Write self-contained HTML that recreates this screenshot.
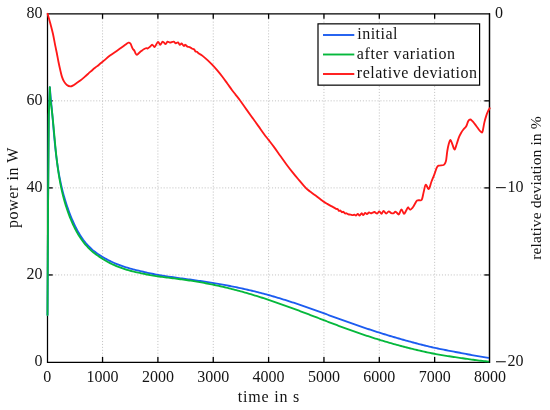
<!DOCTYPE html>
<html><head><meta charset="utf-8"><style>
html,body{margin:0;padding:0;background:#fff;}
svg{display:block;will-change:transform;}
text{font-family:"Liberation Serif",serif;font-size:16px;fill:#141414;}
.g{stroke:#c4c4c4;stroke-width:1;stroke-dasharray:1.1 1.83;fill:none;}
.c{fill:none;stroke-width:1.85;stroke-linejoin:round;stroke-linecap:round;}
.t{stroke:#000;stroke-width:1.3;}
.ax{fill:none;stroke:#000;stroke-width:1.25;stroke-linejoin:miter;}
</style></head><body>
<svg width="550" height="410" viewBox="0 0 550 410">
<line x1="102.55" y1="13.80" x2="102.55" y2="362.00" class="g" stroke-dashoffset="1"/>
<line x1="157.90" y1="13.80" x2="157.90" y2="362.00" class="g" stroke-dashoffset="1"/>
<line x1="213.25" y1="13.80" x2="213.25" y2="362.00" class="g" stroke-dashoffset="1"/>
<line x1="268.60" y1="13.80" x2="268.60" y2="362.00" class="g" stroke-dashoffset="1"/>
<line x1="323.95" y1="13.80" x2="323.95" y2="362.00" class="g" stroke-dashoffset="1"/>
<line x1="379.30" y1="13.80" x2="379.30" y2="362.00" class="g" stroke-dashoffset="1"/>
<line x1="434.65" y1="13.80" x2="434.65" y2="362.00" class="g" stroke-dashoffset="1"/>
<line x1="47.20" y1="274.95" x2="490.00" y2="274.95" class="g" stroke-dashoffset="0.8"/>
<line x1="47.20" y1="187.90" x2="490.00" y2="187.90" class="g" stroke-dashoffset="0.8"/>
<line x1="47.20" y1="100.85" x2="490.00" y2="100.85" class="g" stroke-dashoffset="0.8"/>
<line x1="102.55" y1="362.00" x2="102.55" y2="357.00" class="t"/>
<line x1="102.55" y1="13.80" x2="102.55" y2="18.80" class="t"/>
<line x1="157.90" y1="362.00" x2="157.90" y2="357.00" class="t"/>
<line x1="157.90" y1="13.80" x2="157.90" y2="18.80" class="t"/>
<line x1="213.25" y1="362.00" x2="213.25" y2="357.00" class="t"/>
<line x1="213.25" y1="13.80" x2="213.25" y2="18.80" class="t"/>
<line x1="268.60" y1="362.00" x2="268.60" y2="357.00" class="t"/>
<line x1="268.60" y1="13.80" x2="268.60" y2="18.80" class="t"/>
<line x1="323.95" y1="362.00" x2="323.95" y2="357.00" class="t"/>
<line x1="323.95" y1="13.80" x2="323.95" y2="18.80" class="t"/>
<line x1="379.30" y1="362.00" x2="379.30" y2="357.00" class="t"/>
<line x1="379.30" y1="13.80" x2="379.30" y2="18.80" class="t"/>
<line x1="434.65" y1="362.00" x2="434.65" y2="357.00" class="t"/>
<line x1="434.65" y1="13.80" x2="434.65" y2="18.80" class="t"/>
<line x1="47.5" y1="274.95" x2="52.70" y2="274.95" class="t"/>
<line x1="47.5" y1="187.90" x2="52.70" y2="187.90" class="t"/>
<line x1="47.5" y1="100.85" x2="52.70" y2="100.85" class="t"/>
<path d="M47.5,13.8 H489.5 V362.25 H47.5 Z" class="ax"/>
<path d="M47.50,315.00 L48.00,215.00 L48.80,115.00 L49.80,87.10 L50.96,100.35 L51.12,101.82 L51.27,103.28 L51.41,104.75 L51.56,106.22 L51.69,107.69 L51.83,109.16 L51.97,110.64 L52.10,112.11 L52.23,113.58 L52.36,115.05 L52.49,116.53 L52.62,118.00 L52.74,119.48 L52.87,120.96 L52.99,122.43 L53.12,123.91 L53.24,125.39 L53.37,126.87 L53.49,128.34 L53.62,129.82 L53.75,131.30 L53.88,132.78 L54.01,134.26 L54.14,135.75 L54.27,137.23 L54.41,138.71 L54.55,140.19 L54.69,141.67 L54.84,143.16 L54.98,144.64 L55.14,146.12 L55.29,147.61 L55.45,149.09 L55.61,150.57 L55.78,152.06 L55.96,153.54 L56.13,155.03 L56.32,156.51 L56.50,158.00 L56.70,159.48 L56.90,160.97 L57.10,162.45 L57.32,163.94 L57.54,165.43 L57.76,166.91 L58.00,168.40 L58.24,169.88 L58.48,171.37 L58.74,172.85 L59.00,174.34 L59.28,175.82 L59.56,177.31 L59.85,178.80 L60.15,180.28 L60.46,181.77 L60.77,183.25 L61.10,184.74 L61.44,186.22 L61.79,187.71 L62.15,189.19 L62.52,190.67 L62.90,192.16 L63.29,193.64 L63.69,195.12 L64.11,196.61 L64.53,198.09 L64.97,199.57 L65.43,201.05 L65.89,202.54 L66.37,204.01 L66.86,205.49 L67.36,206.96 L67.88,208.43 L68.41,209.94 L68.96,211.47 L69.52,212.99 L70.09,214.50 L70.68,216.01 L71.29,217.51 L71.91,219.00 L72.55,220.49 L73.20,221.97 L73.87,223.43 L74.55,224.89 L75.25,226.34 L75.97,227.78 L76.71,229.20 L77.46,230.61 L78.23,231.99 L79.02,233.33 L79.82,234.64 L80.65,235.94 L81.49,237.22 L82.35,238.48 L83.23,239.72 L84.14,240.94 L85.06,242.13 L85.99,243.26 L86.95,244.35 L87.93,245.43 L88.93,246.48 L89.95,247.50 L90.99,248.50 L92.04,249.48 L93.11,250.37 L94.20,251.23 L95.31,252.07 L96.43,252.89 L97.57,253.69 L98.73,254.46 L99.90,255.22 L101.09,256.00 L102.29,256.76 L103.50,257.50 L104.73,258.22 L105.97,258.92 L107.23,259.61 L108.50,260.27 L109.78,260.92 L111.07,261.54 L112.37,262.15 L113.69,262.73 L115.01,263.30 L116.35,263.85 L117.69,264.39 L119.05,264.91 L120.41,265.41 L121.79,265.90 L123.17,266.38 L124.56,266.84 L125.95,267.28 L127.36,267.71 L128.77,268.13 L130.18,268.54 L131.61,268.93 L133.04,269.31 L134.47,269.68 L135.91,270.04 L137.35,270.38 L138.80,270.72 L140.26,271.05 L141.72,271.42 L143.18,271.77 L144.65,272.12 L146.12,272.46 L147.59,272.79 L149.07,273.11 L150.55,273.42 L152.04,273.73 L153.53,274.02 L155.02,274.31 L156.51,274.60 L158.01,274.87 L159.51,275.15 L161.01,275.40 L162.52,275.65 L164.03,275.89 L165.53,276.13 L167.04,276.36 L168.55,276.59 L170.07,276.81 L171.58,277.03 L173.10,277.25 L174.61,277.47 L176.13,277.68 L177.64,277.89 L179.16,278.10 L180.68,278.31 L182.19,278.51 L183.71,278.72 L185.23,278.93 L186.74,279.13 L188.26,279.34 L189.77,279.54 L191.28,279.75 L192.79,279.96 L194.30,280.17 L195.81,280.38 L197.32,280.60 L198.82,280.81 L200.33,281.03 L201.83,281.25 L203.33,281.48 L204.82,281.71 L206.32,281.94 L207.81,282.17 L209.31,282.40 L210.80,282.64 L212.29,282.88 L213.78,283.13 L215.26,283.37 L216.75,283.62 L218.23,283.88 L219.71,284.13 L221.19,284.39 L222.67,284.65 L224.14,284.92 L225.62,285.19 L227.09,285.46 L228.57,285.74 L230.04,286.02 L231.51,286.31 L232.97,286.60 L234.44,286.90 L235.91,287.20 L237.37,287.50 L238.83,287.81 L240.30,288.13 L241.76,288.44 L243.21,288.76 L244.67,289.09 L246.13,289.41 L247.58,289.75 L249.04,290.08 L250.49,290.42 L251.94,290.77 L253.39,291.12 L254.84,291.47 L256.29,291.83 L257.74,292.19 L259.19,292.56 L260.63,292.93 L262.08,293.31 L263.52,293.69 L264.96,294.08 L266.40,294.47 L267.84,294.86 L269.28,295.26 L270.72,295.67 L272.16,296.08 L273.60,296.50 L275.03,296.92 L276.47,297.34 L277.90,297.77 L279.34,298.21 L280.77,298.65 L282.20,299.08 L283.63,299.52 L285.06,299.97 L286.49,300.42 L287.92,300.88 L289.35,301.33 L290.78,301.80 L292.21,302.26 L293.63,302.73 L295.06,303.21 L296.48,303.68 L297.91,304.16 L299.33,304.65 L300.76,305.13 L302.18,305.62 L303.60,306.11 L305.03,306.61 L306.45,307.11 L307.87,307.60 L309.29,308.11 L310.71,308.61 L312.13,309.11 L313.55,309.62 L314.97,310.13 L316.39,310.64 L317.81,311.15 L319.23,311.66 L320.65,312.17 L322.07,312.69 L323.48,313.20 L324.90,313.72 L326.32,314.23 L327.74,314.75 L329.15,315.27 L330.57,315.78 L331.99,316.30 L333.41,316.82 L334.82,317.33 L336.24,317.85 L337.66,318.36 L339.07,318.87 L340.49,319.39 L341.91,319.90 L343.32,320.41 L344.74,320.92 L346.16,321.43 L347.58,321.93 L348.99,322.44 L350.41,322.94 L351.83,323.44 L353.25,323.94 L354.66,324.43 L356.08,324.93 L357.50,325.42 L358.92,325.91 L360.34,326.39 L361.76,326.88 L363.18,327.36 L364.60,327.83 L366.02,328.31 L367.44,328.78 L368.86,329.25 L370.28,329.72 L371.70,330.19 L373.12,330.65 L374.54,331.11 L375.97,331.56 L377.39,332.02 L378.81,332.47 L380.24,332.92 L381.66,333.36 L383.09,333.81 L384.51,334.25 L385.94,334.69 L387.37,335.12 L388.80,335.56 L390.22,335.99 L391.65,336.41 L393.08,336.84 L394.51,337.26 L395.95,337.68 L397.38,338.10 L398.81,338.51 L400.24,338.92 L401.68,339.33 L403.11,339.74 L404.55,340.14 L405.99,340.54 L407.42,340.94 L408.86,341.33 L410.30,341.72 L411.74,342.11 L413.18,342.50 L414.63,342.88 L416.07,343.26 L417.51,343.64 L418.96,344.02 L420.40,344.39 L421.85,344.76 L423.30,345.13 L424.75,345.49 L426.20,345.85 L427.65,346.21 L429.10,346.57 L430.56,346.91 L432.01,347.23 L433.47,347.55 L434.93,347.86 L436.39,348.18 L437.85,348.48 L439.31,348.79 L440.77,349.10 L442.24,349.40 L443.70,349.69 L445.17,349.99 L446.64,350.28 L448.10,350.57 L449.58,350.86 L451.05,351.14 L452.52,351.42 L454.00,351.70 L455.47,351.98 L456.95,352.25 L458.43,352.52 L459.91,352.78 L461.39,353.07 L462.88,353.36 L464.36,353.65 L465.85,353.93 L467.34,354.22 L468.83,354.49 L470.32,354.77 L471.82,355.04 L473.31,355.31 L474.81,355.58 L476.31,355.84 L477.81,356.10 L479.31,356.36 L480.82,356.61 L482.33,356.86 L483.83,357.11 L485.34,357.36 L486.86,357.60 L488.37,357.84" stroke="#1c5cf0" class="c"/>
<path d="M47.50,315.00 L48.00,215.00 L48.80,115.00 L49.80,87.10 L50.51,100.55 L50.72,101.97 L50.92,103.39 L51.12,104.81 L51.31,106.24 L51.50,107.67 L51.68,109.11 L51.85,110.55 L52.02,112.00 L52.19,113.45 L52.35,114.90 L52.51,116.35 L52.66,117.81 L52.82,119.28 L52.97,120.74 L53.11,122.21 L53.26,123.68 L53.40,125.16 L53.54,126.63 L53.68,128.11 L53.81,129.60 L53.95,131.08 L54.09,132.57 L54.22,134.06 L54.36,135.55 L54.49,137.04 L54.63,138.54 L54.77,140.03 L54.90,141.53 L55.04,143.03 L55.18,144.53 L55.33,146.03 L55.47,147.54 L55.62,149.04 L55.77,150.55 L55.92,152.05 L56.08,153.56 L56.24,155.07 L56.41,156.58 L56.58,158.09 L56.75,159.59 L56.93,161.10 L57.11,162.61 L57.30,164.12 L57.49,165.63 L57.69,167.14 L57.90,168.65 L58.11,170.15 L58.33,171.66 L58.56,173.17 L58.79,174.67 L59.03,176.17 L59.28,177.68 L59.54,179.18 L59.81,180.68 L60.08,182.18 L60.36,183.68 L60.66,185.17 L60.96,186.67 L61.27,188.16 L61.60,189.65 L61.93,191.14 L62.27,192.62 L62.63,194.11 L62.99,195.59 L63.37,197.07 L63.76,198.54 L64.16,200.02 L64.58,201.49 L65.01,202.95 L65.45,204.42 L65.90,205.87 L66.37,207.33 L66.85,208.77 L67.35,210.21 L67.85,211.65 L68.38,213.12 L68.92,214.61 L69.47,216.08 L70.04,217.55 L70.63,219.02 L71.23,220.47 L71.85,221.92 L72.49,223.36 L73.14,224.78 L73.81,226.20 L74.50,227.61 L75.21,229.01 L75.93,230.40 L76.67,231.77 L77.43,233.13 L78.21,234.47 L79.01,235.76 L79.83,237.03 L80.67,238.28 L81.53,239.53 L82.41,240.75 L83.31,241.96 L84.23,243.15 L85.17,244.31 L86.13,245.41 L87.12,246.48 L88.12,247.54 L89.15,248.58 L90.19,249.61 L91.25,250.61 L92.33,251.57 L93.43,252.46 L94.55,253.34 L95.68,254.19 L96.83,255.03 L98.00,255.84 L99.18,256.64 L100.38,257.43 L101.59,258.23 L102.81,259.02 L104.05,259.79 L105.31,260.54 L106.58,261.26 L107.86,261.97 L109.15,262.66 L110.45,263.33 L111.77,263.98 L113.09,264.60 L114.43,265.21 L115.78,265.79 L117.13,266.36 L118.50,266.91 L119.87,267.44 L121.26,267.95 L122.65,268.44 L124.05,268.91 L125.45,269.37 L126.86,269.80 L128.28,270.22 L129.70,270.62 L131.13,271.00 L132.57,271.36 L134.01,271.71 L135.46,272.05 L136.91,272.37 L138.36,272.67 L139.82,272.96 L141.29,273.29 L142.76,273.61 L144.23,273.92 L145.71,274.22 L147.19,274.51 L148.67,274.78 L150.16,275.05 L151.65,275.31 L153.14,275.56 L154.64,275.81 L156.14,276.05 L157.64,276.28 L159.14,276.50 L160.64,276.72 L162.15,276.92 L163.66,277.12 L165.16,277.31 L166.67,277.51 L168.18,277.70 L169.69,277.89 L171.20,278.07 L172.71,278.26 L174.23,278.45 L175.74,278.64 L177.24,278.82 L178.75,279.02 L180.26,279.21 L181.77,279.41 L183.27,279.61 L184.78,279.81 L186.28,280.02 L187.78,280.24 L189.28,280.46 L190.77,280.68 L192.27,280.91 L193.76,281.15 L195.25,281.39 L196.74,281.63 L198.23,281.89 L199.71,282.14 L201.20,282.40 L202.68,282.67 L204.16,282.94 L205.64,283.22 L207.11,283.50 L208.59,283.79 L210.06,284.08 L211.54,284.37 L213.01,284.67 L214.47,284.98 L215.94,285.29 L217.41,285.61 L218.87,285.93 L220.33,286.25 L221.80,286.58 L223.26,286.91 L224.71,287.25 L226.17,287.60 L227.63,287.95 L229.08,288.30 L230.53,288.66 L231.98,289.03 L233.43,289.40 L234.88,289.78 L236.33,290.16 L237.78,290.54 L239.22,290.93 L240.67,291.33 L242.11,291.73 L243.55,292.13 L244.99,292.54 L246.43,292.95 L247.87,293.37 L249.31,293.79 L250.74,294.21 L252.18,294.64 L253.61,295.07 L255.04,295.51 L256.48,295.95 L257.91,296.40 L259.34,296.84 L260.77,297.30 L262.19,297.75 L263.62,298.21 L265.05,298.68 L266.47,299.15 L267.90,299.62 L269.32,300.10 L270.74,300.57 L272.17,301.06 L273.59,301.55 L275.01,302.04 L276.43,302.53 L277.85,303.03 L279.27,303.53 L280.69,304.03 L282.10,304.53 L283.52,305.04 L284.94,305.54 L286.35,306.05 L287.77,306.56 L289.18,307.08 L290.60,307.59 L292.01,308.11 L293.43,308.63 L294.84,309.16 L296.25,309.68 L297.66,310.21 L299.08,310.74 L300.49,311.27 L301.90,311.80 L303.31,312.34 L304.72,312.87 L306.13,313.41 L307.54,313.94 L308.95,314.48 L310.36,315.02 L311.77,315.56 L313.18,316.10 L314.58,316.64 L315.99,317.18 L317.40,317.72 L318.81,318.26 L320.22,318.80 L321.63,319.34 L323.04,319.88 L324.44,320.42 L325.85,320.96 L327.26,321.50 L328.67,322.04 L330.08,322.57 L331.49,323.11 L332.90,323.64 L334.30,324.17 L335.71,324.70 L337.12,325.23 L338.53,325.76 L339.94,326.29 L341.35,326.81 L342.76,327.33 L344.17,327.85 L345.58,328.37 L346.99,328.88 L348.40,329.40 L349.81,329.91 L351.23,330.41 L352.64,330.92 L354.05,331.42 L355.46,331.91 L356.88,332.41 L358.29,332.90 L359.71,333.38 L361.12,333.87 L362.54,334.35 L363.95,334.82 L365.37,335.30 L366.79,335.77 L368.21,336.23 L369.62,336.70 L371.04,337.16 L372.46,337.61 L373.88,338.06 L375.30,338.51 L376.73,338.96 L378.15,339.40 L379.57,339.84 L381.00,340.27 L382.42,340.70 L383.85,341.13 L385.27,341.56 L386.70,341.98 L388.13,342.40 L389.56,342.81 L390.99,343.22 L392.42,343.63 L393.85,344.03 L395.29,344.43 L396.72,344.82 L398.16,345.22 L399.59,345.61 L401.03,345.99 L402.47,346.37 L403.91,346.75 L405.35,347.13 L406.79,347.50 L408.23,347.86 L409.68,348.23 L411.12,348.59 L412.57,348.94 L414.02,349.30 L415.47,349.65 L416.92,349.99 L418.37,350.33 L419.82,350.67 L421.28,351.01 L422.74,351.34 L424.19,351.67 L425.65,351.99 L427.11,352.31 L428.57,352.63 L430.04,352.94 L431.50,353.22 L432.97,353.49 L434.43,353.77 L435.90,354.04 L437.38,354.30 L438.85,354.56 L440.32,354.82 L441.80,355.07 L443.27,355.32 L444.75,355.57 L446.23,355.81 L447.72,356.05 L449.20,356.28 L450.69,356.52 L452.18,356.74 L453.66,356.97 L455.16,357.19 L456.65,357.40 L458.14,357.61 L459.64,357.82 L461.14,358.05 L462.64,358.28 L464.14,358.51 L465.65,358.73 L467.16,358.95 L468.66,359.17 L470.17,359.38 L471.69,359.58 L473.20,359.79 L474.72,359.99 L476.24,360.19 L477.76,360.38 L479.28,360.57 L480.81,360.75 L482.34,360.93 L483.87,361.11 L485.40,361.28 L486.93,361.45 L488.47,361.60" stroke="#05b83c" class="c"/>
<line x1="489.5" y1="13.2" x2="489.5" y2="362.9" class="t" style="stroke-width:1.25"/>
<line x1="489.5" y1="274.95" x2="484.30" y2="274.95" class="t"/>
<line x1="489.5" y1="187.90" x2="484.30" y2="187.90" class="t"/>
<line x1="489.5" y1="100.85" x2="484.30" y2="100.85" class="t"/>
<path d="M47.60,13.80 C48.13,15.70 49.90,21.83 50.80,25.20 C51.70,28.57 52.27,30.63 53.00,34.00 C53.73,37.37 54.57,42.23 55.20,45.40 C55.83,48.57 56.25,50.23 56.80,53.00 C57.35,55.77 57.93,59.20 58.50,62.00 C59.07,64.80 59.63,67.37 60.20,69.80 C60.77,72.23 61.25,74.63 61.90,76.60 C62.55,78.57 63.27,80.20 64.10,81.60 C64.93,83.00 65.87,84.20 66.90,85.00 C67.93,85.80 69.25,86.33 70.30,86.40 C71.35,86.47 72.23,85.90 73.20,85.40 C74.17,84.90 74.92,84.22 76.10,83.40 C77.28,82.58 78.92,81.55 80.30,80.50 C81.68,79.45 83.02,78.28 84.40,77.10 C85.78,75.92 87.22,74.63 88.60,73.40 C89.98,72.17 91.32,70.87 92.70,69.70 C94.08,68.53 95.52,67.52 96.90,66.40 C98.28,65.28 99.78,64.00 101.00,63.00 C102.22,62.00 102.70,61.63 104.20,60.40 C105.70,59.17 108.10,57.05 110.00,55.60 C111.90,54.15 113.73,53.00 115.60,51.70 C117.47,50.40 119.52,49.02 121.20,47.80 C122.88,46.58 124.48,45.27 125.70,44.40 C126.92,43.53 127.72,42.75 128.50,42.60 C129.28,42.45 129.85,42.82 130.40,43.50 C130.95,44.18 131.38,45.80 131.80,46.70 C132.22,47.60 132.47,48.23 132.90,48.90 C133.33,49.57 133.97,49.97 134.40,50.70 C134.83,51.43 135.10,52.60 135.50,53.30 C135.90,54.00 136.27,54.90 136.80,54.90 C137.33,54.90 137.95,53.93 138.70,53.30 C139.45,52.67 140.45,51.77 141.30,51.10 C142.15,50.43 142.95,49.78 143.80,49.30 C144.65,48.82 145.73,48.35 146.40,48.20 C147.07,48.05 147.20,48.65 147.80,48.40 C148.40,48.15 149.22,47.30 150.00,46.70 C150.78,46.10 151.72,44.77 152.50,44.80 C153.28,44.83 153.78,47.38 154.70,46.90 C155.62,46.42 157.08,42.23 158.00,41.90 C158.92,41.57 159.42,44.95 160.20,44.90 C160.98,44.85 161.80,41.73 162.70,41.60 C163.60,41.47 164.80,44.10 165.60,44.10 C166.40,44.10 166.77,41.85 167.50,41.60 C168.23,41.35 168.98,42.60 170.00,42.60 C171.02,42.60 172.63,41.48 173.60,41.60 C174.57,41.72 175.07,43.17 175.80,43.30 C176.53,43.43 177.33,42.13 178.00,42.40 C178.67,42.67 179.20,44.72 179.80,44.90 C180.40,45.08 180.93,43.32 181.60,43.50 C182.27,43.68 183.18,45.78 183.80,46.00 C184.42,46.22 184.68,44.68 185.30,44.80 C185.92,44.92 186.78,46.32 187.50,46.70 C188.22,47.08 188.88,46.80 189.60,47.10 C190.32,47.40 191.07,48.13 191.80,48.50 C192.53,48.87 193.38,48.80 194.00,49.30 C194.62,49.80 195.02,51.08 195.50,51.50 C195.98,51.92 196.40,51.50 196.90,51.80 C197.40,52.10 198.02,52.93 198.50,53.30 C198.98,53.67 199.07,53.53 199.80,54.00 C200.53,54.47 201.57,55.03 202.90,56.10 C204.23,57.17 206.18,58.88 207.80,60.40 C209.42,61.92 210.98,63.48 212.60,65.20 C214.22,66.92 215.87,68.77 217.50,70.70 C219.13,72.63 220.77,74.67 222.40,76.80 C224.03,78.93 225.68,81.27 227.30,83.50 C228.92,85.73 230.73,88.35 232.10,90.20 C233.47,92.05 234.17,92.88 235.50,94.60 C236.83,96.32 238.32,98.08 240.10,100.50 C241.88,102.92 244.17,106.25 246.20,109.10 C248.23,111.95 250.27,114.77 252.30,117.60 C254.33,120.43 256.37,123.25 258.40,126.10 C260.43,128.95 262.80,132.40 264.50,134.70 C266.20,137.00 267.00,137.83 268.60,139.90 C270.20,141.97 272.17,144.47 274.10,147.10 C276.03,149.73 278.17,152.85 280.20,155.70 C282.23,158.55 284.27,161.47 286.30,164.20 C288.33,166.93 290.37,169.55 292.40,172.10 C294.43,174.65 296.58,177.22 298.50,179.50 C300.42,181.78 302.35,184.08 303.90,185.80 C305.45,187.52 306.50,188.65 307.80,189.80 C309.10,190.95 310.40,191.73 311.70,192.70 C313.00,193.67 314.30,194.63 315.60,195.60 C316.90,196.57 318.20,197.52 319.50,198.50 C320.80,199.48 322.10,200.60 323.40,201.50 C324.70,202.40 326.00,203.13 327.30,203.90 C328.60,204.67 330.07,205.48 331.20,206.10 C332.33,206.72 333.28,207.13 334.10,207.60 C334.92,208.07 335.52,208.67 336.10,208.90 C336.68,209.13 337.13,208.67 337.60,209.00 C338.07,209.33 338.43,210.65 338.90,210.90 C339.37,211.15 339.92,210.28 340.40,210.50 C340.88,210.72 341.32,211.98 341.80,212.20 C342.28,212.42 342.75,211.60 343.30,211.80 C343.85,212.00 344.57,213.15 345.10,213.40 C345.63,213.65 345.95,213.13 346.50,213.30 C347.05,213.47 347.73,214.18 348.40,214.40 C349.07,214.62 349.78,214.48 350.50,214.60 C351.22,214.72 352.03,215.08 352.70,215.10 C353.37,215.12 353.95,214.63 354.50,214.70 C355.05,214.77 355.45,215.63 356.00,215.50 C356.55,215.37 357.20,213.90 357.80,213.90 C358.40,213.90 358.98,215.60 359.60,215.50 C360.22,215.40 360.88,213.37 361.50,213.30 C362.12,213.23 362.70,215.17 363.30,215.10 C363.90,215.03 364.50,213.07 365.10,212.90 C365.70,212.73 366.23,214.18 366.90,214.10 C367.57,214.02 368.43,212.53 369.10,212.40 C369.77,212.27 370.30,213.27 370.90,213.30 C371.50,213.33 372.10,212.82 372.70,212.60 C373.30,212.38 373.77,211.85 374.50,212.00 C375.23,212.15 376.30,213.60 377.10,213.50 C377.90,213.40 378.57,211.35 379.30,211.40 C380.03,211.45 380.78,213.88 381.50,213.80 C382.22,213.72 382.82,210.93 383.60,210.90 C384.38,210.87 385.35,213.52 386.20,213.60 C387.05,213.68 387.85,211.48 388.70,211.40 C389.55,211.32 390.45,212.82 391.30,213.10 C392.15,213.38 393.13,213.35 393.80,213.10 C394.47,212.85 394.75,211.60 395.30,211.60 C395.85,211.60 396.50,212.65 397.10,213.10 C397.70,213.55 398.17,214.90 398.90,214.30 C399.63,213.70 400.65,209.58 401.50,209.50 C402.35,209.42 403.22,213.63 404.00,213.80 C404.78,213.97 405.53,211.58 406.20,210.50 C406.87,209.42 407.37,207.43 408.00,207.30 C408.63,207.17 409.22,209.67 410.00,209.70 C410.78,209.73 411.92,208.40 412.70,207.50 C413.48,206.60 413.97,205.47 414.70,204.30 C415.43,203.13 416.08,201.17 417.10,200.50 C418.12,199.83 419.97,200.57 420.80,200.30 C421.63,200.03 421.60,200.37 422.10,198.90 C422.60,197.43 423.20,193.85 423.80,191.50 C424.40,189.15 424.87,185.23 425.70,184.80 C426.53,184.37 427.83,189.45 428.80,188.90 C429.77,188.35 430.60,183.85 431.50,181.50 C432.40,179.15 433.30,177.15 434.20,174.80 C435.10,172.45 436.12,168.93 436.90,167.40 C437.68,165.87 437.78,166.00 438.90,165.60 C440.02,165.20 442.55,165.43 443.60,165.00 C444.65,164.57 444.77,163.87 445.20,163.00 C445.63,162.13 445.85,161.80 446.20,159.80 C446.55,157.80 446.87,153.68 447.30,151.00 C447.73,148.32 448.27,145.53 448.80,143.70 C449.33,141.87 449.90,139.88 450.50,140.00 C451.10,140.12 451.72,142.82 452.40,144.40 C453.08,145.98 453.87,149.62 454.60,149.50 C455.33,149.38 456.07,145.77 456.80,143.70 C457.53,141.63 458.27,138.93 459.00,137.10 C459.73,135.27 460.47,133.97 461.20,132.70 C461.93,131.43 462.68,130.42 463.40,129.50 C464.12,128.58 464.97,127.87 465.50,127.20 C466.03,126.53 466.13,126.55 466.60,125.50 C467.07,124.45 467.68,121.90 468.30,120.90 C468.92,119.90 469.65,119.50 470.30,119.50 C470.95,119.50 471.47,120.17 472.20,120.90 C472.93,121.63 473.80,122.75 474.70,123.90 C475.60,125.05 476.72,126.62 477.60,127.80 C478.48,128.98 479.27,130.20 480.00,131.00 C480.73,131.80 481.52,132.73 482.00,132.60 C482.48,132.47 482.50,131.90 482.90,130.20 C483.30,128.50 483.83,124.83 484.40,122.40 C484.97,119.97 485.65,117.55 486.30,115.60 C486.95,113.65 487.73,111.92 488.30,110.70 C488.87,109.48 489.47,108.70 489.70,108.30" stroke="#ff1818" class="c"/>
<rect x="318.0" y="23.85" width="161.6" height="61.3" fill="#fff" stroke="#000" stroke-width="1.2"/>
<line x1="323" y1="35" x2="354.3" y2="35" stroke="#1c5cf0" stroke-width="1.9"/>
<line x1="323" y1="54.5" x2="354.3" y2="54.5" stroke="#05b83c" stroke-width="1.9"/>
<line x1="323" y1="74" x2="354.3" y2="74" stroke="#ff1818" stroke-width="1.9"/>
<text x="357.2" y="38.9" textLength="40.3" lengthAdjust="spacing">initial</text>
<text x="356.8" y="58.7" textLength="98.3" lengthAdjust="spacing">after variation</text>
<text x="356.8" y="77.9" textLength="120.2" lengthAdjust="spacing">relative deviation</text>
<text x="42.6" y="366.10" text-anchor="end">0</text>
<text x="42.6" y="279.05" text-anchor="end">20</text>
<text x="42.6" y="192.00" text-anchor="end">40</text>
<text x="42.6" y="104.95" text-anchor="end">60</text>
<text x="42.6" y="17.90" text-anchor="end">80</text>
<text x="47.20" y="381.6" text-anchor="middle">0</text>
<text x="102.55" y="381.6" text-anchor="middle">1000</text>
<text x="157.90" y="381.6" text-anchor="middle">2000</text>
<text x="213.25" y="381.6" text-anchor="middle">3000</text>
<text x="268.60" y="381.6" text-anchor="middle">4000</text>
<text x="323.95" y="381.6" text-anchor="middle">5000</text>
<text x="379.30" y="381.6" text-anchor="middle">6000</text>
<text x="434.65" y="381.6" text-anchor="middle">7000</text>
<text x="490.00" y="381.6" text-anchor="middle">8000</text>
<text x="495" y="17.90">0</text>
<line x1="496" y1="187.65" x2="505.8" y2="187.65" stroke="#111" stroke-width="1.05"/>
<text x="507.6" y="192.20">10</text>
<line x1="496" y1="361.75" x2="505.8" y2="361.75" stroke="#111" stroke-width="1.05"/>
<text x="507.6" y="366.30">20</text>
<text x="268.6" y="401.5" text-anchor="middle" textLength="61.5" lengthAdjust="spacing">time in s</text>
<text transform="translate(17.9,187.8) rotate(-90)" text-anchor="middle" textLength="80.5" lengthAdjust="spacing">power in W</text>
<text transform="translate(540.6,188) rotate(-90)" text-anchor="middle" textLength="143.5" lengthAdjust="spacing" style="font-size:15.6px">relative deviation in %</text>
</svg>
</body></html>
